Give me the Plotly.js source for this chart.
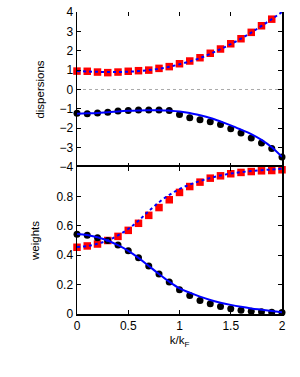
<!DOCTYPE html>
<html>
<head>
<meta charset="utf-8">
<script src="https://cdn.plot.ly/plotly-3.0.1.min.js"></script>
<style>html,body{margin:0;padding:0;background:#fff;}#chart{width:300px;height:377px;}</style>
</head>
<body>
<div id="chart"></div>
<script>
// momentum grid k/kF
const kPts = [0,0.1,0.2,0.3,0.4,0.5,0.6,0.7,0.8,0.9,1.0,1.1,1.2,1.3,1.4,1.5,1.6,1.7,1.8,1.9,2.0];
// dispersions: upper branch (red squares), lower branch (black circles)
const dispUpperPts = [0.95,0.94,0.90,0.87,0.90,0.94,0.97,1.00,1.09,1.18,1.33,1.47,1.64,1.87,2.09,2.36,2.62,2.95,3.29,3.63];
const dispLowerPts = [-1.23,-1.25,-1.21,-1.18,-1.11,-1.09,-1.06,-1.06,-1.06,-1.09,-1.29,-1.46,-1.56,-1.67,-1.81,-2.03,-2.24,-2.51,-2.76,-3.05,-3.48];
// weights: upper branch (red squares), lower branch (black circles)
const wUpperPts = [0.454,0.463,0.476,0.500,0.528,0.569,0.617,0.671,0.724,0.777,0.827,0.867,0.897,0.924,0.940,0.954,0.963,0.969,0.974,0.976,0.981];
const wLowerPts = [0.542,0.535,0.519,0.500,0.469,0.430,0.383,0.327,0.272,0.218,0.165,0.126,0.092,0.069,0.051,0.035,0.026,0.019,0.015,0.012,0.010];
// model curves
const kLine = [0,0.1,0.2,0.3,0.4,0.5,0.6,0.7,0.8,0.9,1.0,1.1,1.2,1.3,1.4,1.5,1.6,1.7,1.8,1.9,2.0];
const dispUpperLine = [0.95,0.93,0.91,0.90,0.90,0.92,0.95,1.00,1.07,1.17,1.30,1.45,1.62,1.84,2.08,2.34,2.62,2.94,3.28,3.63,4.00];
const dispLowerLine = [-1.25,-1.23,-1.21,-1.17,-1.13,-1.10,-1.08,-1.07,-1.07,-1.09,-1.13,-1.21,-1.33,-1.47,-1.65,-1.85,-2.07,-2.30,-2.60,-2.98,-3.48];
const wUpperLine = [0.455,0.462,0.478,0.500,0.535,0.578,0.635,0.700,0.760,0.810,0.850,0.880,0.905,0.925,0.942,0.955,0.965,0.972,0.978,0.983,0.988];
const wLowerLine = [0.545,0.538,0.522,0.500,0.468,0.430,0.382,0.327,0.272,0.220,0.175,0.145,0.118,0.095,0.077,0.062,0.049,0.038,0.029,0.020,0.012];
// tick labels
const xTicks = [0,0.5,1,1.5,2];
const xTickText = ['0','0.5','1','1.5','2'];
const dispTicks = [-4,-3,-2,-1,0,1,2,3,4];
const wTicks = [0,0.2,0.4,0.6,0.8];
const wTickText = ['0','0.2','0.4','0.6','0.8'];

const red = '#ff0000', blue = '#0000ff';
const sq = {symbol:'square', size:7.5, color:red};
const dot = {symbol:'circle', size:7, color:'#000000'};

const traces = [
  {x:kPts.slice(0,dispUpperPts.length), y:dispUpperPts, xaxis:'x2', yaxis:'y2', mode:'markers', marker:sq, cliponaxis:false},
  {x:kPts, y:dispLowerPts, xaxis:'x2', yaxis:'y2', mode:'markers', marker:dot, cliponaxis:false},
  {x:kLine, y:dispUpperLine, xaxis:'x2', yaxis:'y2', mode:'lines', line:{color:blue, width:2, dash:'dot', shape:'spline'}},
  {x:kLine, y:dispLowerLine, xaxis:'x2', yaxis:'y2', mode:'lines', line:{color:blue, width:2, shape:'spline'}},
  {x:kPts, y:wUpperPts, xaxis:'x', yaxis:'y', mode:'markers', marker:sq, cliponaxis:false},
  {x:kPts, y:wLowerPts, xaxis:'x', yaxis:'y', mode:'markers', marker:dot, cliponaxis:false},
  {x:kLine, y:wUpperLine, xaxis:'x', yaxis:'y', mode:'lines', line:{color:blue, width:2, dash:'dot', shape:'spline'}},
  {x:kLine, y:wLowerLine, xaxis:'x', yaxis:'y', mode:'lines', line:{color:blue, width:2, shape:'spline'}}
];

const tfont = {family:'Liberation Sans, Arial, sans-serif', size:12, color:'#000'};
const font = {family:'Liberation Sans, Arial, sans-serif', size:11.5, color:'#000'};
const axBase = {showline:true, linecolor:'#000', linewidth:1.5, mirror:'ticks', ticks:'inside', ticklen:4, tickcolor:'#000', tickwidth:1, showgrid:false, zeroline:false, tickfont:tfont};
const split = 0.4868;

const layout = {
  width:300, height:377,
  margin:{l:77, r:18, t:12, b:63},
  paper_bgcolor:'#fff', plot_bgcolor:'#fff',
  showlegend:false,
  font:font,
  xaxis: Object.assign({}, axBase, {domain:[0,1], anchor:'y', range:[0,2], tickvals:xTicks, ticktext:xTickText,
    title:{text:'k/k<sub>F</sub>', font:font, standoff:4}}),
  xaxis2: Object.assign({}, axBase, {domain:[0,1], anchor:'y2', matches:'x', range:[0,2], tickvals:xTicks, showticklabels:false, showline:false}),
  yaxis: Object.assign({}, axBase, {domain:[0,split], anchor:'x', range:[0,1], tickvals:wTicks, ticktext:wTickText,
    title:{text:'weights', font:font, standoff:14}}),
  yaxis2: Object.assign({}, axBase, {domain:[split,1], anchor:'x2', range:[-4,4], tickvals:dispTicks,
    title:{text:'dispersions', font:font, standoff:12}}),
  shapes:[{type:'line', xref:'x2', yref:'y2', x0:0, x1:2, y0:0, y1:0, line:{color:'#aaaaaa', width:1, dash:'dot'}, layer:'below'}]
};

Plotly.newPlot('chart', traces, layout, {staticPlot:true, displayModeBar:false});
</script>
</body>
</html>
